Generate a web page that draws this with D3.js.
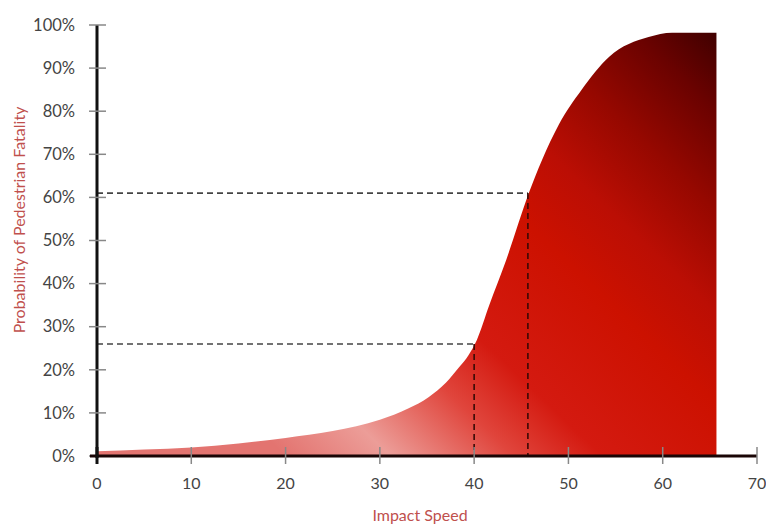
<!DOCTYPE html>
<html>
<head>
<meta charset="utf-8">
<script src="https://cdn.jsdelivr.net/npm/d3@7"></script>
<style>
  body { margin: 0; background: #fff; }
  text { font-family: Lato, "Open Sans", sans-serif; }
</style>
</head>
<body>
<div id="chart"></div>
<script>
// impact speed (mph) vs probability of pedestrian fatality (%)
const speeds   = [0, 5, 10, 15, 20, 25, 30, 33, 35.2, 37, 38.4, 39.4, 40.3, 41.6, 43.4, 45.8, 47.2, 49, 51.4, 54.3, 58.5, 61, 63, 65.7];
const fatality = [1.1, 1.5, 2.0, 2.9, 4.2, 5.8, 8.4, 11, 13.7, 17, 20.6, 23.4, 27, 35, 45.5, 61, 68.7, 77, 85, 92.6, 97.2, 98.2, 98.2, 98.2];

const xTicks = [0, 10, 20, 30, 40, 50, 60, 70];
const yTicks = [0, 10, 20, 30, 40, 50, 60, 70, 80, 90, 100];

// reference markers: [speed, probability]
const markers = [[40, 26], [45.7, 61]];

const W = 766, H = 526;
const x = d3.scaleLinear().domain([0, 70]).range([97, 757]);
const y = d3.scaleLinear().domain([0, 100]).range([456, 25]);

const svg = d3.select("#chart").append("svg")
  .attr("width", W)
  .attr("height", H);

const data = speeds.map((s, i) => ({ s, p: fatality[i] }));

// gradient: light salmon bottom-left -> red -> dark maroon top-right
const grad = svg.append("defs").append("linearGradient")
  .attr("id", "fill")
  .attr("gradientUnits", "userSpaceOnUse")
  .attr("x1", 300).attr("y1", 470)
  .attr("x2", 720).attr("y2", 30);

[
  [0,    "#e37470"],
  [0.12, "#ec9d98"],
  [0.26, "#e0453c"],
  [0.36, "#d41a10"],
  [0.55, "#cc1100"],
  [0.66, "#bb0e04"],
  [0.78, "#960800"],
  [0.9,  "#6a0200"],
  [1,    "#3d0000"]
].forEach(([o, c]) => grad.append("stop").attr("offset", o).attr("stop-color", c));

const area = d3.area()
  .x(d => x(d.s))
  .y0(y(0))
  .y1(d => y(d.p))
  .curve(d3.curveMonotoneX);

svg.append("path")
  .datum(data)
  .attr("d", area)
  .attr("fill", "url(#fill)");

// dashed guide lines
markers.forEach(([s, p]) => {
  svg.append("line")
    .attr("x1", x(0)).attr("x2", x(s))
    .attr("y1", y(p)).attr("y2", y(p))
    .attr("stroke", "#444")
    .attr("stroke-width", 1.6)
    .attr("stroke-dasharray", "6 4");
  svg.append("line")
    .attr("x1", x(s)).attr("x2", x(s))
    .attr("y1", y(p)).attr("y2", y(0))
    .attr("stroke", "#3a0a06")
    .attr("stroke-width", 1.6)
    .attr("stroke-dasharray", "6 4");
});

// y axis
svg.append("line")
  .attr("x1", x(0)).attr("x2", x(0))
  .attr("y1", y(100)).attr("y2", y(0) + 2)
  .attr("stroke", "#111")
  .attr("stroke-width", 3);

svg.selectAll("line.ytick")
  .data(yTicks)
  .join("line")
  .attr("class", "ytick")
  .attr("x1", x(0) - 8).attr("x2", x(0) + 9)
  .attr("y1", d => y(d)).attr("y2", d => y(d))
  .attr("stroke", "#888")
  .attr("stroke-width", 1.5);

svg.selectAll("text.ylab")
  .data(yTicks)
  .join("text")
  .attr("class", "ylab")
  .attr("x", 75)
  .attr("y", d => y(d))
  .attr("dy", "0.35em")
  .attr("text-anchor", "end")
  .attr("font-size", 16.5)
  .attr("fill", "#444")
  .text(d => d + "%");

// x axis
svg.append("line")
  .attr("x1", x(0) - 7).attr("x2", x(70))
  .attr("y1", y(0)).attr("y2", y(0))
  .attr("stroke", "#1a0505")
  .attr("stroke-width", 3);

svg.selectAll("line.xtick")
  .data(xTicks)
  .join("line")
  .attr("class", "xtick")
  .attr("x1", d => x(d)).attr("x2", d => x(d))
  .attr("y1", y(0) - 9).attr("y2", y(0) + 8)
  .attr("stroke", d => d === 0 ? "#111" : "#888")
  .attr("stroke-width", d => d === 0 ? 3 : 1.5);

svg.selectAll("text.xlab")
  .data(xTicks)
  .join("text")
  .attr("class", "xlab")
  .attr("x", d => x(d))
  .attr("y", 489)
  .attr("text-anchor", "middle")
  .attr("font-size", 16)
  .attr("fill", "#444")
  .text(d => d);

// axis titles
svg.append("text")
  .attr("x", 420)
  .attr("y", 521)
  .attr("text-anchor", "middle")
  .attr("font-size", 16)
  .attr("fill", "#c0504d")
  .text("Impact Speed");

svg.append("text")
  .attr("transform", "translate(25,220) rotate(-90)")
  .attr("text-anchor", "middle")
  .attr("font-size", 16)
  .attr("fill", "#c0504d")
  .text("Probability of Pedestrian Fatality");
</script>
</body>
</html>
